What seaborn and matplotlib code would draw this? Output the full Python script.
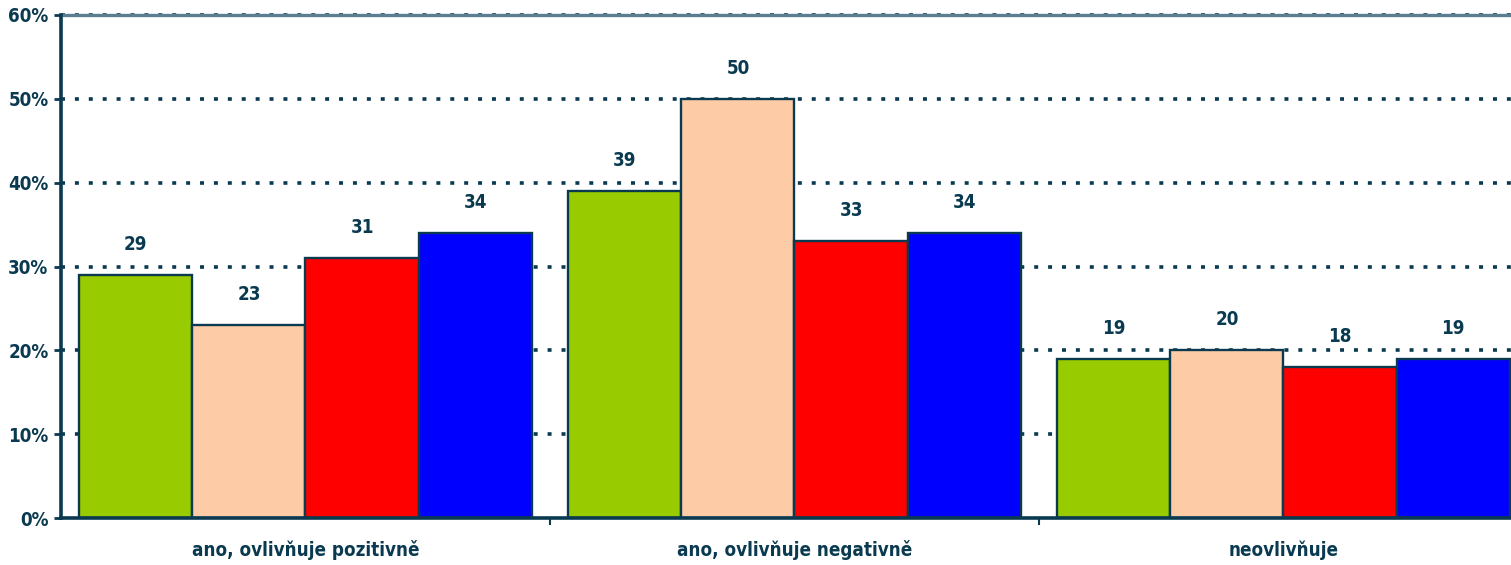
import matplotlib
matplotlib.use("Agg")
import matplotlib.pyplot as plt
import seaborn as sns
import pandas as pd
from matplotlib.ticker import FixedLocator

# Categories and series values (percent)
categories = ["ano, ovlivňuje pozitivně", "ano, ovlivňuje negativně", "neovlivňuje"]
series_names = ["S1", "S2", "S3", "S4"]
values_s1 = [29, 39, 19]
values_s2 = [23, 50, 20]
values_s3 = [31, 33, 18]
values_s4 = [34, 34, 19]
y_ticks = [0, 10, 20, 30, 40, 50, 60]

palette = ["#99CC00", "#FDCBA6", "#FF0000", "#0000FF"]
navy = "#0A3A50"

rows = []
for name, vals in zip(series_names, [values_s1, values_s2, values_s3, values_s4]):
    for cat, v in zip(categories, vals):
        rows.append({"kategorie": cat, "serie": name, "hodnota": v})
df = pd.DataFrame(rows)

sns.set_theme(style="white")
plt.rcParams["font.family"] = ["DejaVu Sans"]
plt.rcParams["font.stretch"] = "condensed"

fig = plt.figure(figsize=(15.11, 5.65), dpi=100)
ax = fig.add_axes([61 / 1511, 47 / 565, 1467 / 1511, 503 / 565])

sns.barplot(data=df, x="kategorie", y="hodnota", hue="serie", order=categories,
            hue_order=series_names, palette=palette, width=0.926, gap=0,
            edgecolor=navy, linewidth=1.7, saturation=1, legend=False, ax=ax, zorder=3)

ax.set_xlim(-0.5, 2.5)
ax.set_ylim(0, 60)

ax.spines["top"].set_color("#5B7E90")
ax.spines["top"].set_linewidth(2.4)
ax.spines["right"].set_visible(False)

# dotted horizontal gridlines
for t in y_ticks[1:]:
    ax.axhline(t, color=navy, linewidth=2.6, linestyle=(0, (1.1, 2.75)), zorder=2,
               clip_on=False)

label_font = dict(fontsize=13.5, fontweight="bold", color=navy, fontstretch="condensed")

ax.yaxis.set_major_locator(FixedLocator(y_ticks))
ax.set_yticklabels([f"{t}%" for t in y_ticks], **label_font)
ax.tick_params(axis="y", direction="out", length=5, width=2, color=navy, left=True, pad=4)

ax.set_xticks(range(len(categories)))
ax.set_xticklabels(categories, **label_font)
ax.xaxis.set_minor_locator(FixedLocator([0.5, 1.5]))
ax.tick_params(axis="x", which="major", length=0, pad=16)
ax.tick_params(axis="x", which="minor", direction="out", length=5, width=1.5, color=navy, bottom=True)

ax.set_xlabel("")
ax.set_ylabel("")

for side in ["left", "bottom"]:
    ax.spines[side].set_color(navy)
    ax.spines[side].set_linewidth(2.6)
    ax.spines[side].set_zorder(4)

# value labels above bars
for container in ax.containers:
    for bar in container:
        h = bar.get_height()
        ax.annotate(f"{h:.0f}", (bar.get_x() + bar.get_width() / 2, h),
                    xytext=(0, 22), textcoords="offset points", ha="center", va="center",
                    **label_font)

fig.savefig("out.png", dpi=100)
